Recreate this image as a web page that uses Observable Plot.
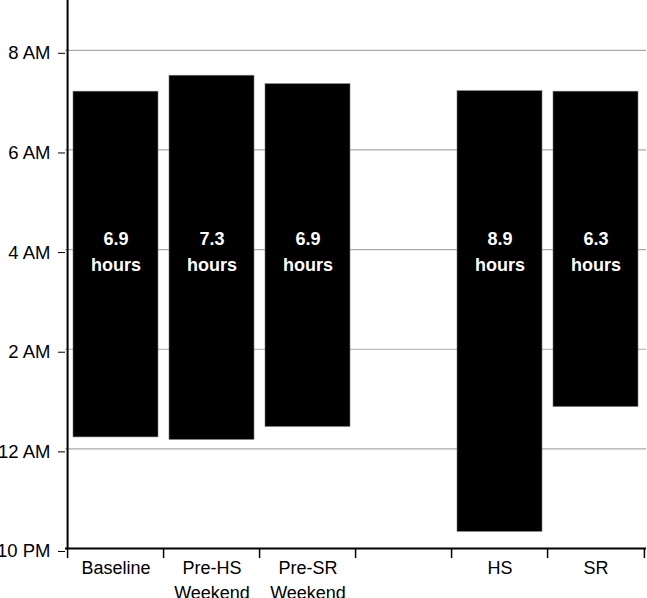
<!DOCTYPE html>
<html>
<head>
<meta charset="utf-8">
<script src="https://cdn.jsdelivr.net/npm/d3@7"></script>
<script src="https://cdn.jsdelivr.net/npm/@observablehq/plot@0.6"></script>
<style>
  html, body { margin: 0; padding: 0; background: #fff; }
</style>
</head>
<body>
<div id="chart"></div>
<script>
// Categories (one empty gap slot between the two groups)
const categories = ["Baseline", "Pre-HS Weekend", "Pre-SR Weekend", "gap", "HS", "SR"];
const categoryLabels = ["Baseline", "Pre-HS\nWeekend", "Pre-SR\nWeekend", "", "HS", "SR"];
// Sleep onset and wake time, in hours after 10 PM
const sleepOnset = [2.23, 2.18, 2.44, null, 0.335, 2.84];
const wakeTime = [9.17, 9.49, 9.32, null, 9.18, 9.17];
const durationLabels = ["6.9", "7.3", "6.9", null, "8.9", "6.3"];
// Y ticks (hours after 10 PM) and their labels
const yTicks = [0, 2, 4, 6, 8, 10];
const yTickLabels = ["10 PM", "12 AM", "2 AM", "4 AM", "6 AM", "8 AM"];

const data = categories.map((c, i) => ({
  key: c, onset: sleepOnset[i], wake: wakeTime[i], dur: durationLabels[i]
})).filter(d => d.onset != null);

const W = 647, H = 598, mL = 65, mR = 1, mT = 0, mB = 50;
const step = (W - mL - mR) / categories.length;
const boundaries = categories.map((c, i) => ({key: c, dx: -step / 2}))
  .concat([{key: categories[categories.length - 1], dx: step / 2}]);

const chart = Plot.plot({
  width: W,
  height: H,
  marginLeft: mL,
  marginRight: mR,
  marginTop: mT,
  marginBottom: mB,
  style: {fontFamily: "'Liberation Sans', Arial, sans-serif", fontSize: "18px", background: "#fff", color: "#000"},
  x: {domain: categories, paddingInner: 0.11, paddingOuter: 0.055, label: null},
  y: {domain: [0, 11], label: null},
  marks: [
    Plot.ruleY(yTicks.filter(d => d > 0), {stroke: "#aaa", strokeWidth: 1.2}),
    Plot.barY(data, {x: "key", y1: "onset", y2: "wake", fill: "#000", stroke: "#777", strokeWidth: 0.6}),
    Plot.text(data, {x: "key", y: 6, text: d => `${d.dur}\nhours`, fill: "#fff", fontWeight: "bold",
      fontSize: 18, lineHeight: 1.44, dy: 0}),
    Plot.ruleY([0], {stroke: "#000", strokeWidth: 2}),
    // y-axis line
    Plot.ruleX([boundaries[0]], {x: "key", dx: -step / 2, y1: 0, y2: 11, stroke: "#000", strokeWidth: 2}),
    // category boundary ticks below the axis
    ...boundaries.map(b => Plot.ruleX([b], {x: "key", dx: b.dx, y1: 0, y2: 0, insetBottom: -10, stroke: "#000", strokeWidth: 1.5})),
    Plot.axisY(yTicks, {tickSize: 7, tickPadding: 8, fontSize: 18.5, dy: 3, label: null,
      tickFormat: d => yTickLabels[yTicks.indexOf(d)]}),
    Plot.axisX({tickSize: 0, tickPadding: 7, fontSize: 18, lineHeight: 1.42, label: null,
      tickFormat: d => categoryLabels[categories.indexOf(d)]})
  ]
});
document.getElementById("chart").appendChild(chart);
</script>
</body>
</html>
